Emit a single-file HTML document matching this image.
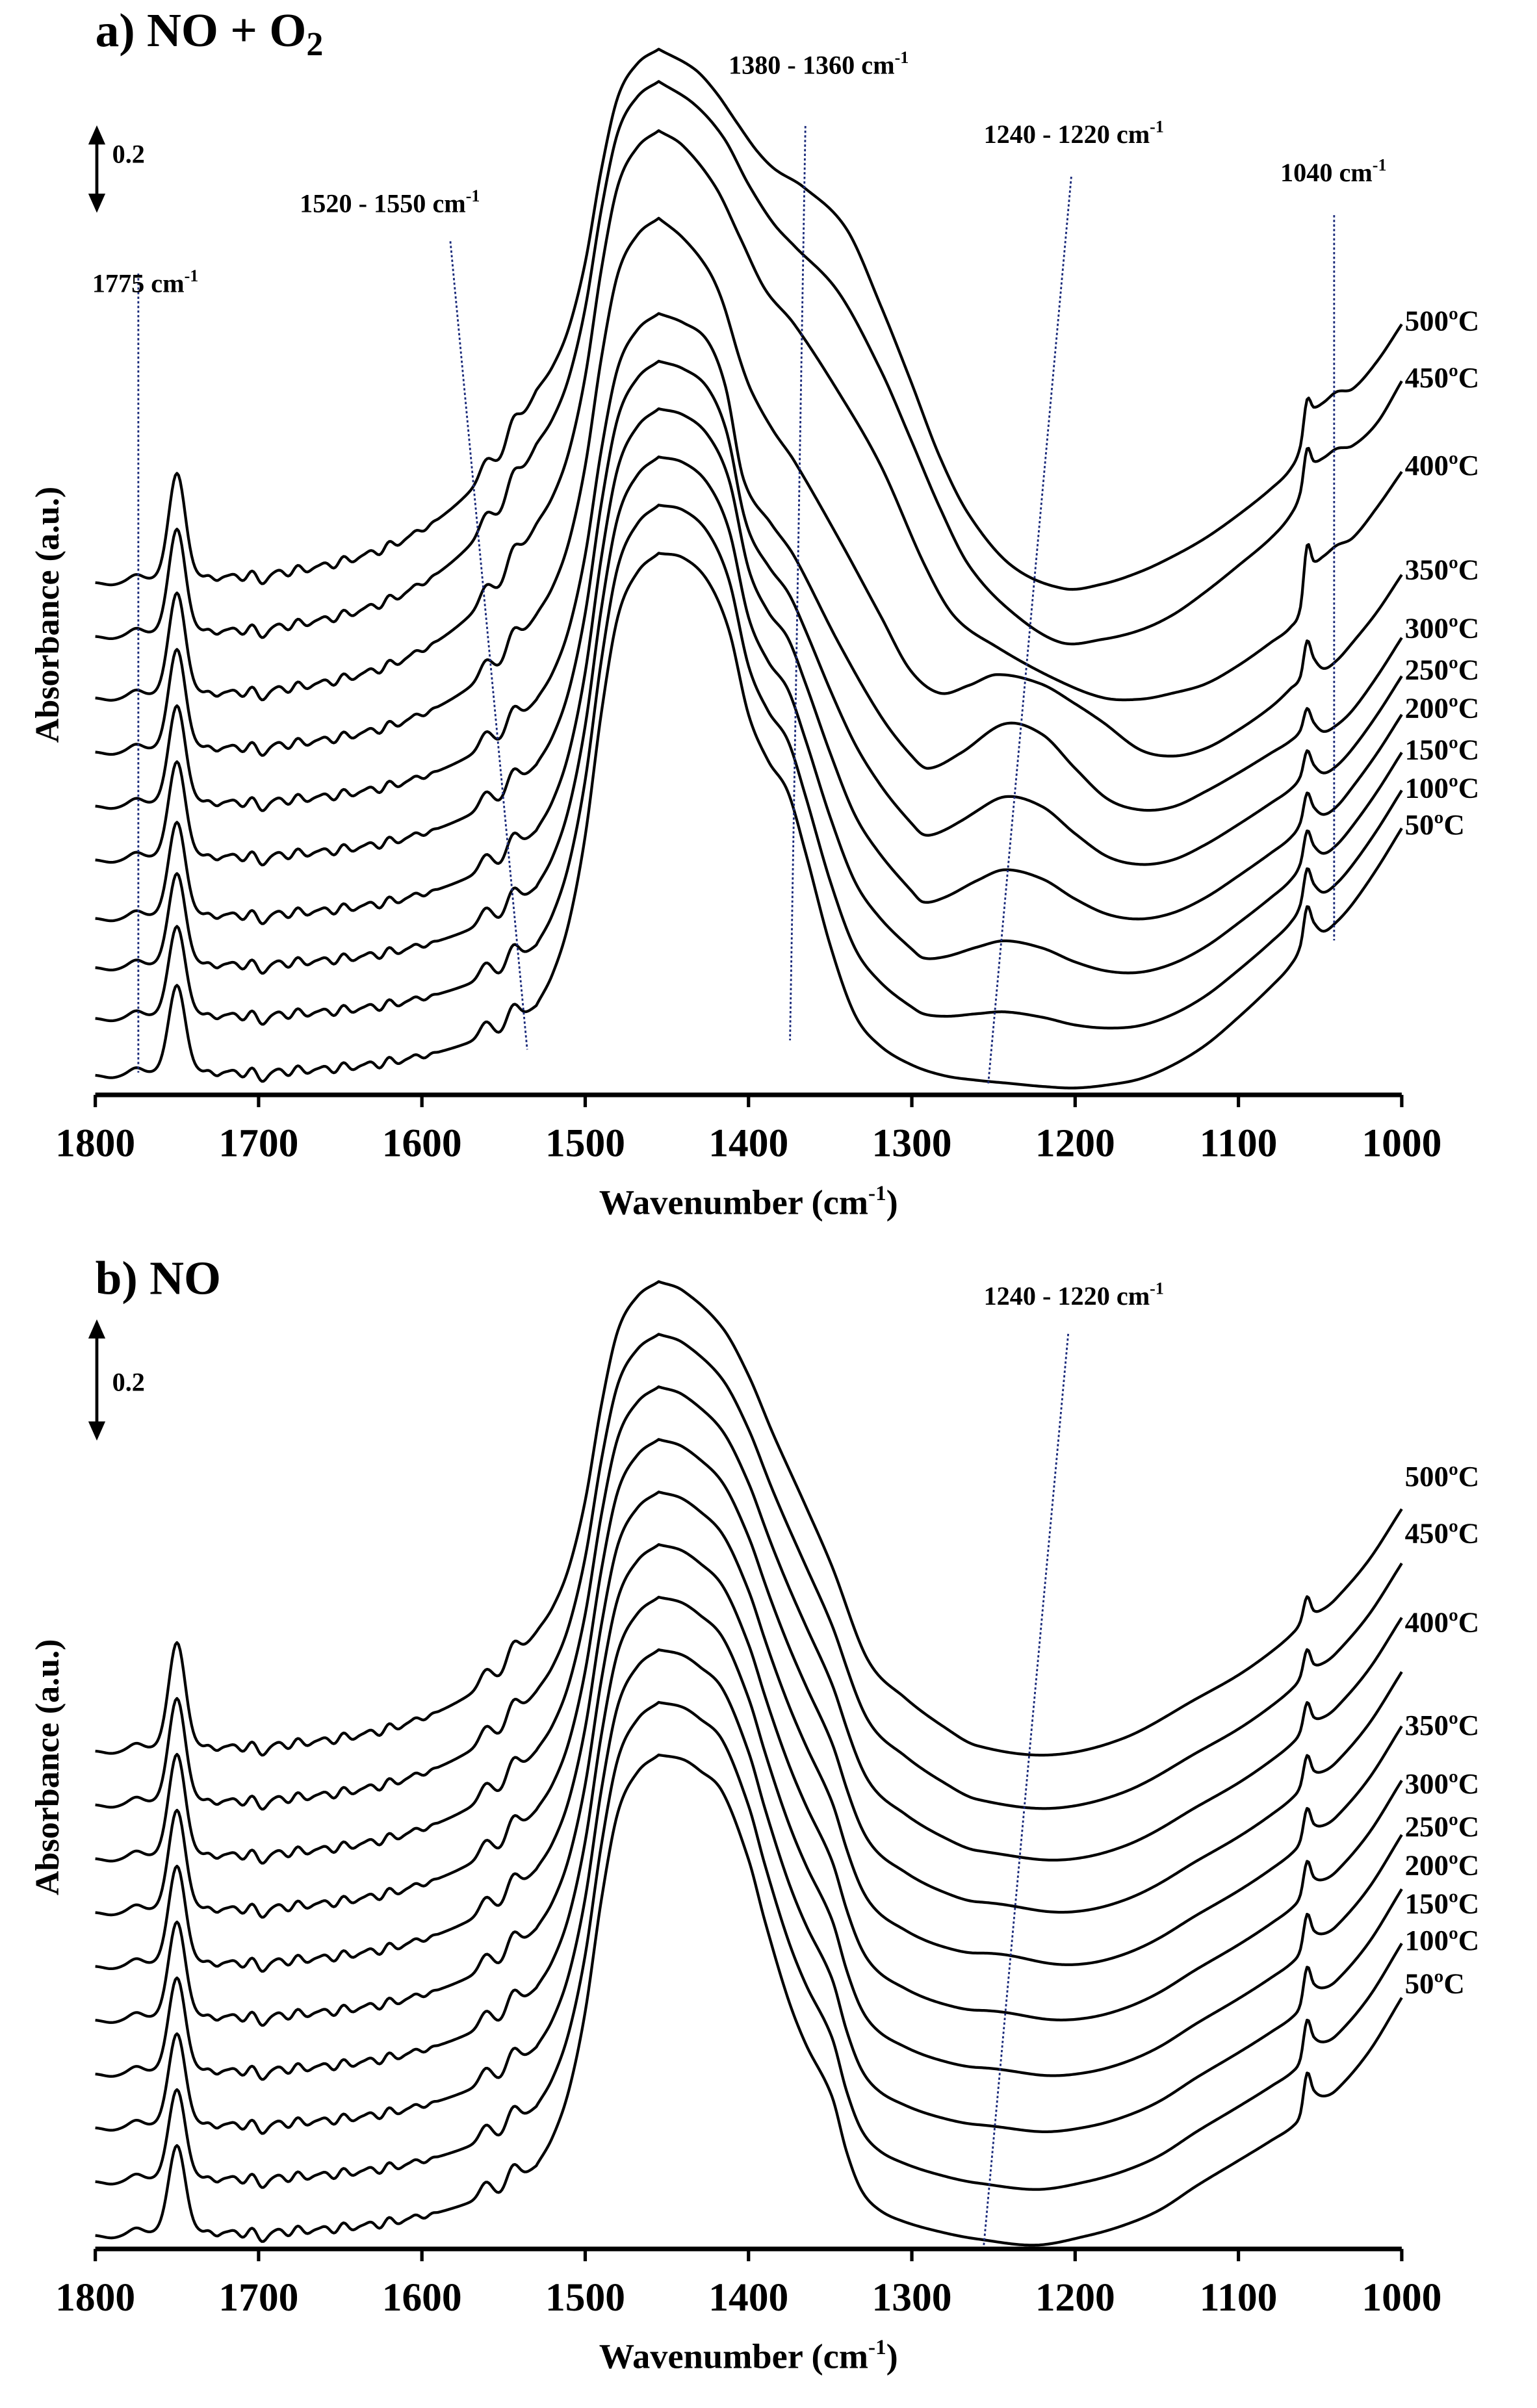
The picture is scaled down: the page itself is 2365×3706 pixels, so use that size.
<!DOCTYPE html>
<html><head><meta charset="utf-8">
<style>
html,body{margin:0;padding:0;background:#fff;}
svg{display:block;}
text{font-family:"Liberation Serif","DejaVu Serif",serif;font-weight:bold;fill:#000;}
</style></head>
<body>
<svg id="s" xmlns="http://www.w3.org/2000/svg" width="2365" height="3706" viewBox="0 0 1000 1567" preserveAspectRatio="none">
<rect width="1000" height="1567" fill="#fff"/>
<g id="curves" fill="none" stroke="#000" stroke-width="1.8" stroke-linejoin="round"></g>
<g stroke="#000" stroke-width="3" fill="none">
<path d="M62,712.5 H912"/>
<path d="M62,1463.5 H912"/>
</g>
<g id="ticks" stroke="#000" stroke-width="2.2"></g>
<g stroke="#1a2a7a" stroke-width="1.2" stroke-dasharray="1.5,1.5" fill="none">
<path d="M90,178 L90,698"/>
<path d="M293,157 L343,683"/>
<path d="M524,82 L514,677"/>
<path d="M697,115 L643,705"/>
<path d="M868,140 L868,612"/>
<path d="M695,868 L640,1462"/>
</g>
<g stroke="#000" stroke-width="2" fill="#000">
<path d="M63,91 L63,129"/><path d="M59,93 L63,84 L67,93 Z"/><path d="M59,127 L63,136 L67,127 Z"/>
<path d="M63,868 L63,928"/><path d="M59,870 L63,861 L67,870 Z"/><path d="M59,926 L63,935 L67,926 Z"/>
</g>
<text x="73" y="106" font-size="17">0.2</text>
<text x="73" y="905" font-size="17">0.2</text>
<text x="62" y="30" font-size="31">a) NO + O<tspan font-size="22" dy="6">2</tspan></text>
<text x="62" y="842" font-size="31">b) NO</text>
<text x="60" y="190" font-size="17">1775 cm<tspan font-size="11" dy="-7">-1</tspan></text>
<text x="195" y="138" font-size="17">1520 - 1550 cm<tspan font-size="11" dy="-7">-1</tspan></text>
<text x="474" y="48" font-size="17">1380 - 1360 cm<tspan font-size="11" dy="-7">-1</tspan></text>
<text x="640" y="93" font-size="17">1240 - 1220 cm<tspan font-size="11" dy="-7">-1</tspan></text>
<text x="833" y="118" font-size="17">1040 cm<tspan font-size="11" dy="-7">-1</tspan></text>
<text x="640" y="849" font-size="17">1240 - 1220 cm<tspan font-size="11" dy="-7">-1</tspan></text>
<text transform="translate(38,400) rotate(-90)" text-anchor="middle" font-size="22">Absorbance (a.u.)</text>
<text transform="translate(38,1150) rotate(-90)" text-anchor="middle" font-size="22">Absorbance (a.u.)</text>
<text x="487" y="790" text-anchor="middle" font-size="23">Wavenumber (cm<tspan font-size="14" dy="-9">-1</tspan><tspan dy="9">)</tspan></text>
<text x="487" y="1541" text-anchor="middle" font-size="23">Wavenumber (cm<tspan font-size="14" dy="-9">-1</tspan><tspan dy="9">)</tspan></text>
<g id="labels" font-size="19"></g>
</svg>
<script>
(function(){
var NS="http://www.w3.org/2000/svg";
function X(w){return 62+(1800-w)*1.0625;}
function herm(t,w){
  var n=t.length;
  if(w>=t[0][0])return t[0][1];
  if(w<=t[n-1][0])return t[n-1][1];
  var j=0;while(j<n-1&&!(w<=t[j][0]&&w>=t[j+1][0]))j++;
  var x0=t[j][0],x1=t[j+1][0],y0=t[j][1],y1=t[j+1][1];
  function m(k){var a=t[Math.max(k-1,0)],b=t[Math.min(k+1,n-1)];return (b[1]-a[1])/(b[0]-a[0]);}
  var h=x1-x0,s=(w-x0)/h,m0=m(j)*h,m1=m(j+1)*h;
  var s2=s*s,s3=s2*s;
  return (2*s3-3*s2+1)*y0+(s3-2*s2+s)*m0+(-2*s3+3*s2)*y1+(s3-s2)*m1;
}
function g(w,c,s){return Math.exp(-(w-c)*(w-c)/(2*s*s));}
function L(w,A,pk){
  var H=A*Math.exp(-(w-1540)/55);
  H+=pk*g(w,1750,5)+6/(1+Math.pow((w-1750)/9,2));
  H+=4*g(w,1775,4)-2*g(w,1790,5);
  if(w<1735&&w>1590){var win=Math.min(1,(1735-w)/10,(w-1590)/15);
    H+=win*(2.2*Math.sin(2*Math.PI*(w-1700)/14)+1*Math.sin(2*Math.PI*w/9.3));
    H-=4*g(w,1697,3);}
  H+=9*g(w,1561,3.5)+11*g(w,1544,3.5)-3*g(w,1552,3);
  return H;
}
var F=[[1530,0],[1520,.07],[1510,.184],[1500,.375],[1490,.65],[1480,.86],[1468,.958],[1455,1]];
function curve(base,A,pk,right){
  var y1530=base-L(1530,A,pk),peak=right(1455),d="";
  for(var w=1800;w>=1000;w-=1){
    var y;
    if(w>=1530)y=base-L(w,A,pk);
    else if(w>1455)y=y1530+herm(F,w)*(peak-y1530);
    else y=right(w);
    d+=(w==1800?"M":"L")+X(w).toFixed(2)+","+y.toFixed(2);
  }
  var p=document.createElementNS(NS,"path");p.setAttribute("d",d);
  document.getElementById("curves").appendChild(p);
}
var a0=[[1455,360],[1440,363],[1425,378],[1412,410],[1400,465],[1388,495],[1376,515],[1365,555],[1350,615],[1335,660],[1320,680],[1300,693],[1280,700],[1260,703],[1240,705],[1220,707],[1200,708],[1180,706],[1160,702],[1140,693],[1120,680],[1100,662],[1080,642],[1068,628],[1062,615],[1058,590],[1054,600],[1048,606],[1040,600],[1030,588],[1015,565],[1000,539]];
var a3=[[1455,266],[1440,270],[1425,283],[1412,312],[1400,370],[1388,398],[1376,415],[1365,445],[1350,490],[1335,530],[1320,555],[1300,580],[1293,587],[1280,584],[1260,573],[1243,566],[1220,572],[1200,585],[1180,595],[1160,598],[1140,594],[1120,584],[1100,570],[1080,555],[1068,545],[1062,535],[1058,516],[1054,525],[1048,530],[1040,525],[1030,512],[1015,490],[1000,465]];
var a5=[[1455,204],[1440,210],[1425,222],[1414,252],[1403,312],[1386,341],[1372,362],[1345,418],[1319,466],[1300,492],[1290,500],[1270,490],[1243,471],[1220,478],[1200,500],[1180,520],[1160,527],[1140,525],[1120,515],[1100,503],[1080,490],[1068,482],[1062,475],[1058,461],[1054,470],[1048,476],[1040,472],[1030,462],[1015,440],[1000,415]];
var a6=[[1455,142],[1440,155],[1425,175],[1416,196],[1405,235],[1398,255],[1385,280],[1372,300],[1345,350],[1319,401],[1301,436],[1283,451],[1265,446],[1248,439],[1221,445],[1200,458],[1183,470],[1160,488],[1140,492],[1120,487],[1100,475],[1080,460],[1068,448],[1062,440],[1058,417],[1054,428],[1048,435],[1040,430],[1030,418],[1015,398],[1000,374]];
var a7=[[1455,85],[1440,95],[1420,122],[1405,155],[1390,188],[1372,211],[1345,255],[1319,303],[1292,368],[1274,401],[1248,421],[1212,442],[1183,454],[1160,455],[1140,451],[1120,445],[1100,433],[1080,418],[1068,408],[1062,395],[1058,355],[1054,365],[1048,362],[1040,355],[1030,350],[1015,330],[1000,307]];
var a8=[[1455,53],[1433,68],[1415,90],[1400,120],[1385,145],[1372,160],[1345,190],[1319,241],[1301,285],[1283,330],[1265,368],[1239,398],[1209,418],[1183,416],[1160,410],[1140,400],[1120,385],[1100,368],[1080,350],[1068,335],[1062,320],[1058,292],[1054,300],[1048,298],[1040,292],[1030,290],[1015,275],[1000,248]];
var a9=[[1455,32],[1433,45],[1420,60],[1407,80],[1395,98],[1384,110],[1366,122],[1340,149],[1319,199],[1301,247],[1283,297],[1265,335],[1239,368],[1207,383],[1183,380],[1160,372],[1140,362],[1120,350],[1100,335],[1080,318],[1068,305],[1062,290],[1058,260],[1054,265],[1048,262],[1040,255],[1030,253],[1015,235],[1000,211]];
function T(t){return function(w){return herm(t,w);};}
function mix(t1,t2,f){return function(w){var a=herm(t1,w);return a+(herm(t2,w)-a)*f;};}
var ra=[T(a0),mix(a0,a3,1/3),mix(a0,a3,2/3),T(a3),mix(a3,a5,0.5),T(a5),T(a6),T(a7),T(a8),T(a9)];
var baseA=[700,663,630,598,560,525,490,455,415,380];
var AA=[38,40,44,48,52,58,75,95,105,105];
for(var i=0;i<10;i++)curve(baseA[i],AA[i],52+1.3*i,ra[i]);
var b0=[[1455,1142],[1440,1145],[1430,1152],[1416,1166],[1400,1210],[1390,1250],[1376,1300],[1365,1330],[1349,1364],[1340,1400],[1331,1425],[1320,1438],[1304,1446],[1280,1453],[1260,1457],[1224,1461],[1193,1455],[1170,1448],[1148,1438],[1125,1422],[1100,1406],[1080,1393],[1066,1383],[1062,1375],[1058,1349],[1054,1360],[1048,1364],[1040,1360],[1020,1335],[1000,1300]];
var b9=[[1455,834],[1440,840],[1416,864],[1400,895],[1385,933],[1365,980],[1349,1019],[1327,1080],[1304,1105],[1280,1124],[1260,1136],[1215,1142],[1170,1131],[1125,1105],[1100,1090],[1080,1075],[1066,1062],[1062,1055],[1058,1039],[1054,1048],[1048,1047],[1040,1040],[1020,1015],[1000,982]];
var hb=[0,1,4,6,8,10,7,4,1,0];
for(var i=0;i<10;i++){(function(i){
  var f=i/9;
  curve(1455-35*i,38+3*i,52+1.3*i,function(w){var a=herm(b0,w);return a+(herm(b9,w)-a)*f-hb[i]*g(w,1242,25);});
})(i);}
var tk=document.getElementById("ticks"),s=document.getElementById("s");
[712.5,1463.5].forEach(function(ay){
  for(var w=1800;w>=1000;w-=100){
    var l=document.createElementNS(NS,"line");
    l.setAttribute("x1",X(w));l.setAttribute("x2",X(w));l.setAttribute("y1",ay);l.setAttribute("y2",ay+8);
    tk.appendChild(l);
    var t=document.createElementNS(NS,"text");
    t.setAttribute("x",X(w));t.setAttribute("y",ay+40);t.setAttribute("text-anchor","middle");t.setAttribute("font-size","26");
    t.textContent=String(w);s.appendChild(t);
  }
});
var lab=document.getElementById("labels");
var temps=["500","450","400","350","300","250","200","150","100","50"];
var ya=[208,245,302,370,408,435,460,487,512,536],yb=[960,997,1055,1122,1160,1188,1213,1238,1262,1290];
for(var k=0;k<10;k++){
  [ya,yb].forEach(function(arr){
    var t=document.createElementNS(NS,"text");
    t.setAttribute("x",914);t.setAttribute("y",arr[k]+7);t.textContent=temps[k]+"ºC";lab.appendChild(t);
  });
}
})();
</script>
</body></html>
